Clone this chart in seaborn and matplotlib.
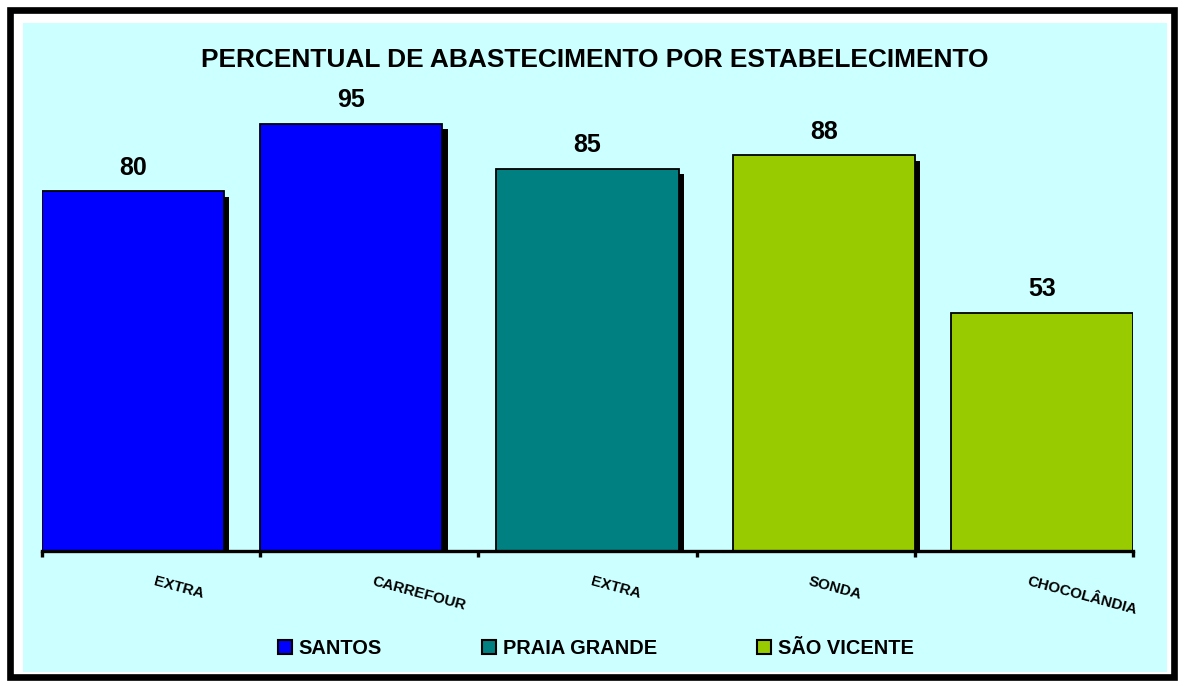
import matplotlib
matplotlib.use("Agg")
import matplotlib.pyplot as plt
import matplotlib.patheffects as pe
import matplotlib.transforms as mtransforms
from matplotlib.patches import Rectangle, Patch
import pandas as pd
import seaborn as sns

# -------------------------------------
# Data
# -------------------------------------
estabelecimentos = ["EXTRA", "CARREFOUR", "EXTRA", "SONDA", "CHOCOLÂNDIA"]
cidades = ["SANTOS", "SANTOS", "PRAIA GRANDE", "SÃO VICENTE", "SÃO VICENTE"]
percentuais = [80, 95, 85, 88, 53]

series = ["SANTOS", "PRAIA GRANDE", "SÃO VICENTE"]
cores = ["#0000FF", "#008080", "#99CC00"]

# clustered-bar offset of each series inside its slot (Excel style)
offset = {"SANTOS": -0.083, "PRAIA GRANDE": 0.0, "SÃO VICENTE": 0.083}

df = pd.DataFrame({
    "pos": [i + 0.5 + offset[c] for i, c in enumerate(cidades)],
    "valor": percentuais,
    "cidade": cidades,
})

# -------------------------------------
# Figure
# -------------------------------------
sns.set_style("white")
plt.rcParams["font.family"] = ["Liberation Sans", "DejaVu Sans"]
plt.rcParams["text.color"] = "black"
plt.rcParams["xtick.color"] = "black"

W, H = 1184, 686
fig = plt.figure(figsize=(W / 100, H / 100), dpi=100)
fig.patch.set_facecolor("white")

# chart area background + outer black frame
fig.patches.append(Rectangle((23 / W, 1 - 672 / H), (1167 - 23) / W, (672 - 23) / H,
                             transform=fig.transFigure, facecolor="#CCFFFF",
                             edgecolor="none", zorder=-3))
fig.patches.append(Rectangle((10 / W, 1 - 676.5 / H), (1173.5 - 10) / W, (676.5 - 10) / H,
                             transform=fig.transFigure, facecolor="none",
                             edgecolor="black", linewidth=4.8, zorder=-2))

ax = fig.add_axes([42 / W, 135 / H, (1133 - 42) / W, 450 / H])
ax.set_facecolor("none")

sns.barplot(
    data=df, x="pos", y="valor", hue="cidade",
    hue_order=series, palette=cores, saturation=1,
    native_scale=True, dodge=False, width=0.835,
    edgecolor="black", linewidth=1.3, ax=ax, legend=False,
)

for bar in ax.patches:
    bar.set_path_effects([
        pe.SimplePatchShadow(offset=(3.8, -4.2), shadow_rgbFace="black", alpha=1.0),
        pe.Normal(),
    ])

for cont in ax.containers:
    ax.bar_label(cont, fmt="%d", padding=8, fontsize=18, fontweight="bold")

ax.set_xlim(0, 5)
ax.set_ylim(0, 100)
ax.set_xlabel("")
ax.set_ylabel("")
ax.set_yticks([])

for s in ["top", "right", "left"]:
    ax.spines[s].set_visible(False)
ax.spines["bottom"].set_linewidth(2.4)
ax.spines["bottom"].set_color("black")

ax.set_xticks([i + 0.5 for i in range(5)])
ax.set_xticklabels(estabelecimentos, rotation=-15, rotation_mode="anchor",
                   ha="left", va="top", fontsize=10.9, fontweight="bold")
ax.tick_params(axis="x", which="major", length=0, pad=17)
ax.set_xticks(range(6), minor=True)
ax.tick_params(axis="x", which="minor", length=4, width=2.4, direction="out", bottom=True)

shift = mtransforms.ScaledTranslation(5 / 100, 0, fig.dpi_scale_trans)
for lbl in ax.get_xticklabels():
    lbl.set_transform(lbl.get_transform() + shift)

# -------------------------------------
# Title and legend
# -------------------------------------
fig.text(595 / W, 1 - 60 / H, "PERCENTUAL DE ABASTECIMENTO POR ESTABELECIMENTO",
         ha="center", va="center", fontsize=18.9, fontweight="bold")

handles = [Patch(facecolor=c, edgecolor="black", linewidth=1.5) for c in cores]
fig.legend(handles, series, loc="center", bbox_to_anchor=(596 / W, 1 - 648 / H),
           ncol=3, frameon=False, prop={"size": 14.4, "weight": "bold"},
           handlelength=0.7, handleheight=0.7, handletextpad=0.35,
           columnspacing=5.0)

fig.savefig("out.png", dpi=100)
